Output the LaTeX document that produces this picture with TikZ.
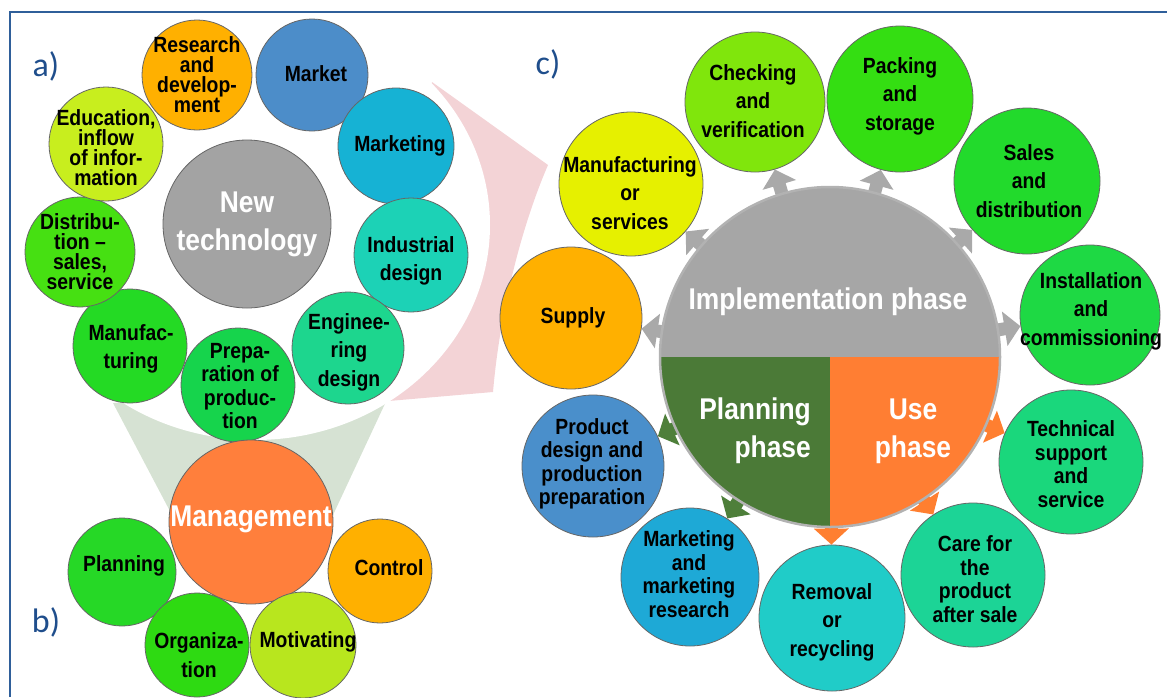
\documentclass[tikz,border=0pt]{standalone}
\usepackage{fontspec}
\setmainfont[FakeStretch=0.88]{Liberation Sans}
\newfontfamily\labelfont{Carlito}
\usetikzlibrary{arrows.meta, positioning}
\pgfdeclarelayer{bg}
\pgfsetlayers{bg,main}

\definecolor{frameblue}{HTML}{2F5F9A}
\definecolor{labelblue}{HTML}{1F4E8C}
\definecolor{pinkfill}{HTML}{F3D3D6}
\definecolor{funnelfill}{HTML}{D6E2D3}
\definecolor{ccresearch}{HTML}{FFB000}
\definecolor{ccmarket}{HTML}{4C8DC9}
\definecolor{ccmarketing}{HTML}{16B2D4}
\definecolor{ccindustrial}{HTML}{1CD2B6}
\definecolor{ccengineering}{HTML}{1DD68E}
\definecolor{ccpreparation}{HTML}{16D44C}
\definecolor{ccmanufac}{HTML}{24DA24}
\definecolor{ccdistrib}{HTML}{46E012}
\definecolor{cceducation}{HTML}{C8EE1E}
\definecolor{ccnewtech}{HTML}{A3A3A3}
\definecolor{ccmanagement}{HTML}{FF7F3C}
\definecolor{ccplanning}{HTML}{26D826}
\definecolor{cccontrol}{HTML}{FFB000}
\definecolor{ccorganization}{HTML}{2EDA12}
\definecolor{ccmotivating}{HTML}{B8E61E}
\definecolor{ccsupply}{HTML}{FFB000}
\definecolor{ccmanufserv}{HTML}{E6F000}
\definecolor{ccchecking}{HTML}{80E60C}
\definecolor{ccpacking}{HTML}{34DE12}
\definecolor{ccsales}{HTML}{22DA2C}
\definecolor{ccinstall}{HTML}{1ED944}
\definecolor{cctechnical}{HTML}{1AD77C}
\definecolor{cccare}{HTML}{1CD496}
\definecolor{ccremoval}{HTML}{20CCC8}
\definecolor{ccmresearch}{HTML}{1EA9D6}
\definecolor{ccproduct}{HTML}{4A8FCB}
\definecolor{hubgray}{HTML}{A6A6A6}
\definecolor{hubgreen}{HTML}{4B7A37}
\definecolor{huborange}{HTML}{FF7E33}
\definecolor{arrgray}{HTML}{A9A9A9}
\definecolor{arrgreen}{HTML}{4E7F3A}
\definecolor{arrorange}{HTML}{FF7F30}

\tikzset{
  bubble/.style={circle, draw=black!60, line width=0.8pt, inner sep=0pt},
  btext/.style={align=center, inner sep=0pt, font=\bfseries\fontsize{22}{20}\selectfont},
  mtext/.style={align=center, inner sep=0pt, font=\bfseries\fontsize{22}{23.5}\selectfont},
  ltext/.style={align=center, inner sep=0pt, font=\bfseries\fontsize{22}{28.5}\selectfont},
  wtext/.style={align=center, inner sep=0pt, text=white, font=\bfseries\fontsize{30}{38}\selectfont},
  panellabel/.style={text=labelblue, font=\labelfont\fontsize{34}{34}\selectfont},
  grayarrow/.style={draw=arrgray, line width=13pt, shorten <=-16pt, -{Triangle[width=34pt,length=16pt]}},
  greenarrow/.style={grayarrow, draw=arrgreen},
  orangearrow/.style={grayarrow, draw=arrorange}
}

\begin{document}
\begin{tikzpicture}[x=1pt,y=-1pt]
\useasboundingbox (0,0) rectangle (1167,697);

\fill[pinkfill] (432,82) -- (548,165) .. controls (522,225) and (500,310) .. (493,392) -- (377,402) -- cycle;
\fill[funnelfill] (113,403) -- (172,515) -- (333,515) -- (390,393) -- cycle;
\fill[white] (255,225) ellipse [x radius=235pt, y radius=215pt];
\draw[frameblue, line width=1.6pt] (10,697) -- (10,12) -- (1167,12);

\node[panellabel] (lbla) at (46,66) {a)};
\node[panellabel] (lblb) at (46,622) {b)};
\node[panellabel] (lblc) at (548,64) {c)};

\node[bubble, fill=ccnewtech, minimum size=168pt] (newtech) at (247,224) {};
\node[wtext] (newtech-t) at (newtech) {New\\technology};
\node[bubble, fill=ccresearch, minimum size=110pt] (research) at (197,75) {};
\node[btext] (research-t) at (research) {Research\\and\\develop-\\ment};
\node[bubble, fill=ccmarket, minimum size=112pt] (market) at (312,75) {};
\node[btext] (market-t) at (316,74) {Market};
\node[bubble, fill=ccmarketing, minimum size=116pt] (marketing) at (396,146) {};
\node[btext] (marketing-t) at (400,146) {Marketing};
\node[bubble, fill=ccindustrial, minimum size=114pt] (industrial) at (411,255) {};
\node[ltext] (industrial-t) at (411,261) {Industrial\\design};
\node[bubble, fill=ccengineering, minimum size=112pt] (engineering) at (348,348) {};
\node[ltext] (engineering-t) at (349,352) {Enginee-\\ring\\design};
\node[bubble, fill=ccpreparation, minimum size=114pt] (preparation) at (238,385) {};
\node[mtext] (preparation-t) at (240,386) {Prepa-\\ration of\\produc-\\tion};
\node[bubble, fill=ccmanufac, minimum size=114pt] (manufac) at (130,346) {};
\node[ltext] (manufac-t) at (131,349) {Manufac-\\turing};
\node[bubble, fill=ccdistrib, minimum size=110pt] (distrib) at (80,252) {};
\node[btext] (distrib-t) at (80,252) {Distribu-\\tion --\\sales,\\service};
\node[bubble, fill=cceducation, minimum size=114pt] (education) at (106,144) {};
\node[btext] (education-t) at (106,148) {Education,\\inflow\\of infor-\\mation};

\node[bubble, fill=ccmanagement, minimum size=164pt] (management) at (251,522) {};
\node[wtext] (management-t) at (251,519) {Management};
\node[bubble, fill=ccplanning, minimum size=108pt] (planning) at (122,572) {};
\node[btext] (planning-t) at (124,566) {Planning};
\node[bubble, fill=cccontrol, minimum size=104pt] (control) at (380,571) {};
\node[btext] (control-t) at (389,568) {Control};
\node[bubble, fill=ccorganization, minimum size=104pt] (organization) at (197,645) {};
\node[ltext] (organization-t) at (199,655) {Organiza-\\tion};
\node[bubble, fill=ccmotivating, minimum size=106pt] (motivating) at (303,645) {};
\node[btext] (motivating-t) at (308,642) {Motivating};

\node[circle, minimum size=340pt, inner sep=0pt, draw=black!30, line width=2.5pt,
  path picture={
    \fill[hubgray] (path picture bounding box.north west) rectangle (path picture bounding box.east);
    \fill[hubgreen] (path picture bounding box.west) rectangle (path picture bounding box.south);
    \fill[huborange] (path picture bounding box.center) rectangle (path picture bounding box.south east);
  }] (hub) at (830,357) {};
\node[wtext] (impl-t) at (828,302) {Implementation phase};
\node[wtext, align=right, anchor=east] (plan-t) at (811,431) {Planning\\phase};
\node[wtext] (use-t) at (913,431) {Use\\phase};

\node[bubble, fill=ccsupply, minimum size=142pt] (supply) at (571,318) {};
\node[btext] (supply-t) at (573,318) {Supply};
\node[bubble, fill=ccmanufserv, minimum size=144pt] (manufserv) at (631,184) {};
\node[ltext] (manufserv-t) at (630,193) {Manufacturing\\or\\services};
\node[bubble, fill=ccchecking, minimum size=140pt] (checking) at (755,102) {};
\node[ltext] (checking-t) at (753,101) {Checking\\and\\verification};
\node[bubble, fill=ccpacking, minimum size=146pt] (packing) at (900,99) {};
\node[ltext] (packing-t) at (900,96) {Packing\\and\\storage};
\node[bubble, fill=ccsales, minimum size=146pt] (sales) at (1027,181) {};
\node[ltext] (sales-t) at (1029,181) {Sales\\and\\distribution};
\node[bubble, fill=ccinstall, minimum size=140pt] (install) at (1090,315) {};
\node[ltext] (install-t) at (1091,311) {Installation\\and\\commissioning};
\node[bubble, fill=cctechnical, minimum size=144pt] (technical) at (1071,462) {};
\node[mtext] (technical-t) at (1071,464) {Technical\\support\\and\\service};
\node[bubble, fill=cccare, minimum size=144pt] (care) at (973,575) {};
\node[mtext] (care-t) at (975,579) {Care for\\the\\product\\after sale};
\node[bubble, fill=ccremoval, minimum size=146pt] (removal) at (832,618) {};
\node[ltext] (removal-t) at (832,622) {Removal\\or\\recycling};
\node[bubble, fill=ccmresearch, minimum size=138pt] (mresearch) at (690,577) {};
\node[mtext] (mresearch-t) at (689,574) {Marketing\\and\\marketing\\research};
\node[bubble, fill=ccproduct, minimum size=142pt] (product) at (593,466) {};
\node[mtext] (product-t) at (592,464) {Product\\design and\\production\\preparation};

\begin{pgfonlayer}{bg}
\draw[grayarrow] (hub) -- (supply);
\draw[grayarrow] (hub) -- (manufserv);
\draw[grayarrow] (hub) -- (checking);
\draw[grayarrow] (hub) -- (packing);
\draw[grayarrow] (hub) -- (sales);
\draw[grayarrow] (hub) -- (install);
\draw[orangearrow] (hub) -- (technical);
\draw[orangearrow] (hub) -- (care);
\draw[orangearrow] (hub) -- (removal);
\draw[greenarrow] (hub) -- (mresearch);
\draw[greenarrow] (hub) -- (product);
\end{pgfonlayer}
\end{tikzpicture}
\end{document}
